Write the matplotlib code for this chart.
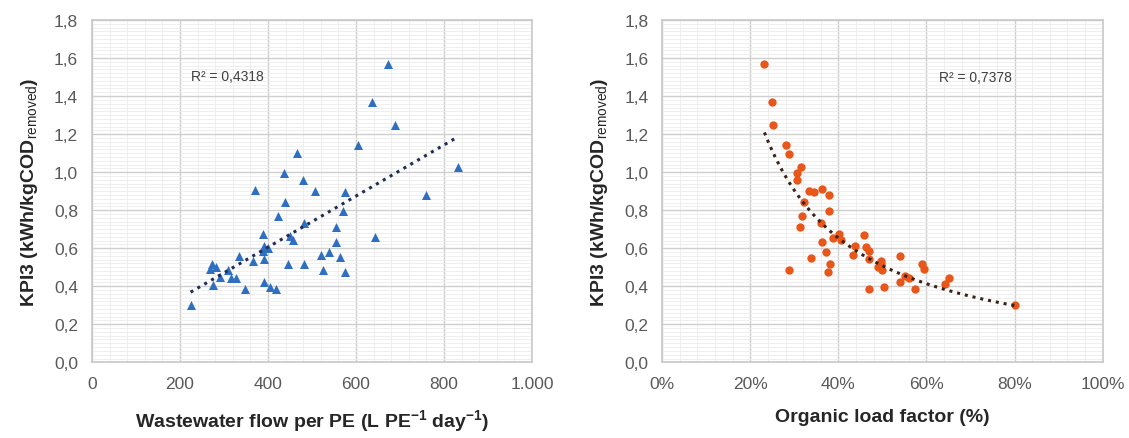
import matplotlib
matplotlib.use("Agg")
import matplotlib.pyplot as plt
from matplotlib import font_manager
from matplotlib.ticker import MultipleLocator, FuncFormatter
import numpy as np

# wastewater flow per PE (L PE-1 day-1) vs KPI3
flow = [673, 637, 689, 604, 467, 831, 437, 479, 371, 507, 575, 758, 439, 570, 423,
        482, 554, 388, 451, 456, 554, 643, 391, 401, 388, 520, 539, 564, 334, 365,
        391, 273, 282, 268, 310, 446, 482, 525, 575, 291, 315, 327, 276, 390, 405,
        419, 348, 224]
kpi_flow = [1.568, 1.370, 1.248, 1.143, 1.099, 1.025, 0.997, 0.958, 0.908, 0.899,
            0.897, 0.880, 0.841, 0.797, 0.771, 0.732, 0.713, 0.676, 0.666, 0.641,
            0.631, 0.657, 0.610, 0.601, 0.583, 0.566, 0.582, 0.552, 0.557, 0.534,
            0.543, 0.517, 0.503, 0.491, 0.487, 0.515, 0.518, 0.484, 0.475, 0.450,
            0.442, 0.445, 0.408, 0.421, 0.398, 0.387, 0.385, 0.300]

# organic load factor vs KPI3
olf = [0.232, 0.249, 0.251, 0.280, 0.287, 0.315, 0.305, 0.307, 0.333, 0.344, 0.363,
       0.378, 0.321, 0.378, 0.318, 0.313, 0.360, 0.401, 0.388, 0.406, 0.458, 0.363,
       0.438, 0.463, 0.469, 0.371, 0.433, 0.540, 0.337, 0.470, 0.496, 0.589, 0.382,
       0.497, 0.490, 0.500, 0.595, 0.288, 0.377, 0.551, 0.561, 0.652, 0.540, 0.642,
       0.470, 0.504, 0.573, 0.802]
kpi_olf = [1.568, 1.370, 1.248, 1.143, 1.097, 1.027, 0.995, 0.958, 0.899, 0.897,
           0.909, 0.880, 0.841, 0.797, 0.771, 0.711, 0.732, 0.676, 0.655, 0.641,
           0.668, 0.631, 0.610, 0.606, 0.585, 0.580, 0.566, 0.557, 0.550, 0.543,
           0.534, 0.515, 0.517, 0.515, 0.499, 0.485, 0.489, 0.484, 0.475, 0.454,
           0.445, 0.445, 0.421, 0.410, 0.387, 0.394, 0.385, 0.300]

r2_flow = "R² = 0,4318"
r2_olf = "R² = 0,7378"

names = {f.name for f in font_manager.fontManager.ttflist}
base = "Liberation Sans" if "Liberation Sans" in names else "DejaVu Sans"
plt.rcParams["font.family"] = base
plt.rcParams["mathtext.fontset"] = "custom"
plt.rcParams["mathtext.rm"] = base
plt.rcParams["mathtext.bf"] = base + ":bold"

TICK = "#595959"

fig = plt.figure(figsize=(11.29, 4.39), dpi=100)
ax1 = fig.add_axes([0.0815, 0.1724, 0.3897, 0.7797])
ax2 = fig.add_axes([0.5866, 0.1724, 0.3900, 0.7797])


def style(ax):
    ax.set_ylim(0, 1.8)
    ax.yaxis.set_major_locator(MultipleLocator(0.2))
    ax.yaxis.set_minor_locator(MultipleLocator(0.02))
    ax.yaxis.set_major_formatter(FuncFormatter(lambda v, p: f"{v:.1f}".replace(".", ",")))
    ax.grid(which="major", color="#cfcfcf", lw=1.0)
    ax.grid(which="minor", color="#ececec", lw=0.6)
    ax.set_axisbelow(True)
    for s in ax.spines.values():
        s.set_color("#c8c8c8")
        s.set_linewidth(1.2)
    ax.tick_params(which="both", length=0)
    ax.tick_params(axis="y", labelsize=12.5, colors=TICK, pad=10)
    ax.tick_params(axis="x", labelsize=12.5, colors=TICK, pad=10)
    ax.set_ylabel(r"KPI3 (kWh/kgCOD$_\mathrm{removed}$)", fontsize=14,
                  fontweight="bold", color="#262626", labelpad=10)


# left panel
ax1.set_xlim(0, 1000)
ax1.xaxis.set_major_locator(MultipleLocator(200))
ax1.xaxis.set_minor_locator(MultipleLocator(40))
ax1.xaxis.set_major_formatter(FuncFormatter(lambda v, p: f"{v:,.0f}".replace(",", ".")))
style(ax1)
ax1.scatter(flow, kpi_flow, marker="^", s=42, color="#2F6FBF", zorder=3, linewidths=0)
c = np.polyfit(flow, kpi_flow, 1)
xs = np.linspace(min(flow), max(flow), 100)
ax1.plot(xs, np.polyval(c, xs), ls=(0, (1, 1.6)), lw=2.2, color="#1F2D5A", zorder=4)
ax1.text(225, 1.505, r2_flow, fontsize=10, color="#404040", va="center")
ax1.set_xlabel(r"Wastewater flow per PE (L PE$^\mathregular{-1}$ day$^\mathregular{-1}$)",
               fontsize=14, fontweight="bold", color="#262626", labelpad=12)

# right panel
ax2.set_xlim(0, 1)
ax2.xaxis.set_major_locator(MultipleLocator(0.2))
ax2.xaxis.set_minor_locator(MultipleLocator(0.04))
ax2.xaxis.set_major_formatter(FuncFormatter(lambda v, p: f"{v*100:.0f}%"))
style(ax2)
ax2.scatter(olf, kpi_olf, marker="o", s=36, color="#E8561A", zorder=3, linewidths=0)
b, lna = np.polyfit(np.log(olf), np.log(kpi_olf), 1)
xs2 = np.linspace(min(olf), max(olf), 100)
ax2.plot(xs2, np.exp(lna) * xs2 ** b, ls=(0, (1, 1.6)), lw=2.2, color="#3A2218", zorder=4)
ax2.text(0.628, 1.50, r2_olf, fontsize=10, color="#404040", va="center")
ax2.set_xlabel("Organic load factor (%)", fontsize=14, fontweight="bold",
               color="#262626", labelpad=12)

fig.savefig("out.png", dpi=100, facecolor="white")
